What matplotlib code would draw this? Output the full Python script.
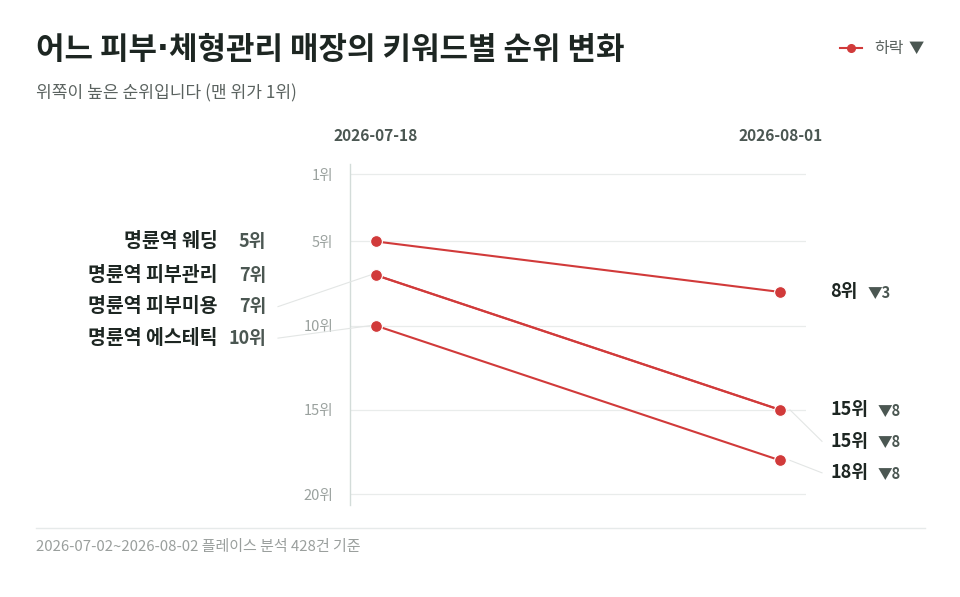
import matplotlib
matplotlib.use("Agg")
import matplotlib.pyplot as plt
import matplotlib.transforms as mtransforms
from matplotlib.lines import Line2D

plt.rcParams['font.family'] = ['Noto Sans CJK KR', 'DejaVu Sans']

# data
keywords = ["명륜역 웨딩", "명륜역 피부관리", "명륜역 피부미용", "명륜역 에스테틱"]
rank_start = [5, 7, 7, 10]
rank_end = [8, 15, 15, 18]
dates = ["2026-07-18", "2026-08-01"]
rank_ticks = [1, 5, 10, 15, 20]

title_parts = ["어느 피부", "·", "체형관리 매장의 키워드별 순위 변화"]
subtitle = "위쪽이 높은 순위입니다 (맨 위가 1위)"
footer = "2026-07-02~2026-08-02 플레이스 분석 428건 기준"
legend_label = "하락"

RED = "#d13a3a"
DARK = "#1d2622"
MID = "#4b5752"
GRID = "#e9eceb"
LEADER = "#e3e6e5"

W, H = 960, 597
fig = plt.figure(figsize=(W / 100, H / 100), dpi=100)
ax = fig.add_axes([350 / W, 1 - 505 / H, 456 / W, (505 - 164) / H])

xs = [0, 1]
for s, e in zip(rank_start, rank_end):
    ax.plot(xs, [s, e], color=RED, lw=1.5, marker="o", ms=8.5,
            markeredgecolor="white", markeredgewidth=0.8, zorder=3, clip_on=False)

ax.set_xlim(-0.064, 1.064)
ax.set_ylim(20.65, 0.4)
ax.set_yticks(rank_ticks)
ax.set_yticklabels([f"{r}위" for r in rank_ticks], fontsize=10.5, color="#9aa19e")
ax.tick_params(axis="y", length=0, pad=12)
ax.set_xticks([])
for r in rank_ticks:
    ax.axhline(r, color=GRID, lw=0.9, zorder=0)
for sp in ["top", "right", "bottom"]:
    ax.spines[sp].set_visible(False)
ax.spines["left"].set_color("#d3dcd9")
ax.spines["left"].set_linewidth(1.0)

# date headers
tr_head = mtransforms.blended_transform_factory(ax.transData, fig.transFigure)
for x, d in zip(xs, dates):
    fig.text(x, 1 - 136 / H, d, transform=tr_head, ha="center", va="center",
             fontsize=11.2, fontweight="bold", color=MID)


def spread(vals, gap):
    order = sorted(range(len(vals)), key=lambda i: vals[i])
    out = list(vals)
    prev = None
    for i in order:
        if prev is not None and out[i] < prev + gap:
            out[i] = prev + gap
        prev = out[i]
    return out


gap = 1.87
left_y = spread(rank_start, gap)
right_y = spread(rank_end, gap)

tr_fig_x = mtransforms.blended_transform_factory(fig.transFigure, ax.transData)

# left labels
for k, r, y in zip(keywords, rank_start, left_y):
    fig.text(218 / W, y, k, transform=tr_fig_x, ha="right", va="center",
             fontsize=14, fontweight="bold", color=DARK)
    fig.text(266 / W, y, f"{r}위", transform=tr_fig_x, ha="right", va="center",
             fontsize=13, fontweight="bold", color=MID)
    if abs(y - r) > 0.05:
        fig.add_artist(Line2D([278 / W, (376 - 6) / W], [y, r], color=LEADER, lw=0.8,
                              transform=tr_fig_x))

# right labels
for s, r, y in zip(rank_start, rank_end, right_y):
    t = fig.text(830 / W, y, f"{r}위", transform=tr_fig_x, ha="left", va="center",
                 fontsize=13, fontweight="bold", color=DARK)
    ax.annotate(f"▼{r - s}", xy=(1, 0.5), xycoords=t, xytext=(7, 0),
                textcoords="offset points", ha="left", va="center",
                fontsize=10.5, fontweight="bold", color=MID)
    if abs(y - r) > 0.05:
        fig.add_artist(Line2D([(780 + 10) / W, 822 / W], [r, y], color=LEADER, lw=0.8,
                              transform=tr_fig_x))

# title (middle dot from DejaVu so it stays narrow)
t0 = fig.text(36 / W, 1 - 50 / H, title_parts[0], ha="left", va="center",
              fontsize=22.3, fontweight="bold", color=DARK)
t1 = ax.annotate(title_parts[1], xy=(1, 0.5), xycoords=t0, xytext=(0, 0),
                 textcoords="offset points", ha="left", va="center",
                 fontsize=22.3, fontweight="bold", color=DARK, family="DejaVu Sans")
ax.annotate(title_parts[2], xy=(1, 0.5), xycoords=t1, xytext=(0, 0),
            textcoords="offset points", ha="left", va="center",
            fontsize=22.3, fontweight="bold", color=DARK)
fig.text(36 / W, 1 - 93 / H, subtitle, ha="left", va="center",
         fontsize=12.3, color="#5a625f")

# legend
fig.add_artist(Line2D([840 / W, 862 / W], [1 - 48 / H, 1 - 48 / H], color=RED, lw=1.5,
                      transform=fig.transFigure))
fig.add_artist(Line2D([851 / W], [1 - 48 / H], color=RED, marker="o", ms=5.5,
                      transform=fig.transFigure))
fig.text(874 / W, 1 - 48 / H, legend_label, ha="left", va="center", fontsize=11.5, color="#5a625f")
fig.text(909 / W, 1 - 48 / H, "▼", ha="left", va="center", fontsize=11, color=MID)

# footer
fig.add_artist(Line2D([36 / W, 925 / W], [1 - 528 / H, 1 - 528 / H], color="#e6eaea", lw=1,
                      transform=fig.transFigure))
fig.text(36 / W, 1 - 547 / H, footer, ha="left", va="center", fontsize=10.8, color="#9a9f9d")

fig.savefig("out.png", dpi=100, facecolor="white")
